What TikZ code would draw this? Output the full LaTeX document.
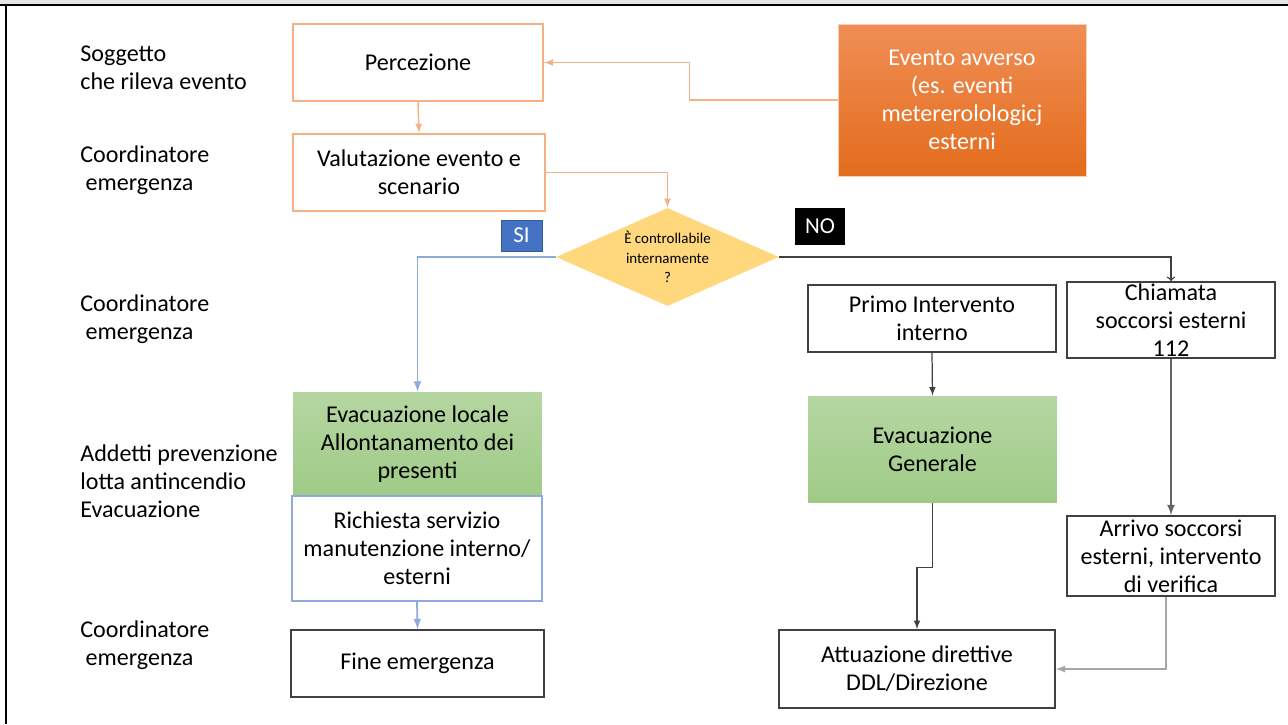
\documentclass[tikz,border=0pt]{standalone}
\usepackage{fontspec}
\setmainfont{Carlito}
\usepackage{tikz}
\usetikzlibrary{arrows}
\usetikzlibrary{shapes.geometric}
\definecolor{orline}{HTML}{F4B183}
\definecolor{orarrow}{HTML}{ED7D31}
\definecolor{orhigh}{HTML}{F08E55}
\definecolor{orlow}{HTML}{E36C1C}
\definecolor{blline}{HTML}{8FAADC}
\definecolor{blbox}{HTML}{4472C4}
\definecolor{grhigh}{HTML}{B5D6A2}
\definecolor{grlow}{HTML}{9FCB86}
\definecolor{ylfill}{HTML}{FFD77D}
\definecolor{dkline}{HTML}{404040}
\definecolor{ltline}{HTML}{A6A6A6}

\begin{document}
\begin{tikzpicture}[x=0.02cm,y=-0.02cm,
  txt/.style={font=\fontsize{13.7}{15.9}\selectfont,align=center,inner sep=0pt},
  role/.style={font=\fontsize{13.7}{15.9}\selectfont,align=left,anchor=west,inner sep=0pt},
  orbox/.style={txt,draw=orline,line width=1.2pt,fill=white},
  dkbox/.style={txt,draw=dkline,line width=1pt,fill=white},
  blbox/.style={txt,draw=blline,line width=1pt,fill=white},
  grbox/.style={txt,top color=grhigh,bottom color=grlow,draw=none},
  tag/.style={font=\fontsize{13}{15}\selectfont,text=white,inner sep=0pt},
  orflow/.style={draw=orline,line width=0.8pt,-latex},
  blflow/.style={draw=blline,line width=1pt,-latex},
  dkflow/.style={draw=dkline,line width=0.7pt,-latex}]
\useasboundingbox (0,0) rectangle (1288,724);
%% frame of the page
\fill[black!10] (0,0) rectangle (1288,4);
\draw[black,line width=1.4pt] (0,5) -- (1288,5);
\draw[black,line width=1.4pt] (6,5) -- (6,724);

%% roles on the left
\node[role] (r1) at (80,68) {Soggetto\\che rileva evento};
\node[role] (r2) at (80,170) {Coordinatore\\\hspace*{3pt}emergenza};
\node[role] (r3) at (80,319) {Coordinatore\\\hspace*{3pt}emergenza};
\node[role] (r4) at (80,481) {Addetti prevenzione\\lotta antincendio\\Evacuazione};
\node[role] (r5) at (80,645) {Coordinatore\\\hspace*{3pt}emergenza};

%% boxes
\node[orbox,minimum width=5cm,minimum height=1.54cm] (perc) at (418,62.5) {Percezione};
\node[orbox,minimum width=5.04cm,minimum height=1.54cm] (val) at (419,172.5) {Valutazione evento e\\scenario};
\node[txt,text=white,top color=orhigh,bottom color=orlow,draw=orline!60,line width=0.4pt,
  minimum width=4.96cm,minimum height=3.04cm] (ev) at (962,100) {Evento avverso\\(es. eventi\\metererolologicj\\esterni};
\node[diamond,aspect=2.27,fill=ylfill,inner sep=0pt,minimum width=4.46cm,minimum height=1.96cm,
  font=\fontsize{8.5}{11}\selectfont,align=center] (dec) at (667.5,257) {È controllabile\\internamente\\?};
\node[tag,fill=blbox,draw=blbox!80!black,line width=0.4pt,minimum width=0.82cm,minimum height=0.62cm] (si) at (521.5,235.5) {SI};
\node[tag,fill=black,minimum width=1cm,minimum height=0.74cm] (no) at (820,226.5) {NO};
\node[dkbox,minimum width=4.96cm,minimum height=1.34cm] (primo) at (932,318.5) {Primo Intervento\\interno};
\node[dkbox,minimum width=4.16cm,minimum height=1.52cm] (chi) at (1171,320) {Chiamata\\soccorsi esterni\\112};
\node[grbox,minimum width=4.98cm,minimum height=2.08cm] (evl) at (417.5,444) {Evacuazione locale\\Allontanamento dei\\presenti};
\node[blbox,minimum width=5cm,minimum height=2.1cm] (ric) at (417,548.5) {Richiesta servizio\\manutenzione interno/\\esterni};
\node[dkbox,minimum width=5.06cm,minimum height=1.34cm] (fine) at (417.5,663.5) {Fine emergenza};
\node[grbox,minimum width=4.98cm,minimum height=2.14cm] (evg) at (932.5,449.5) {Evacuazione\\Generale};
\node[dkbox,minimum width=5.52cm,minimum height=1.56cm] (att) at (917,669) {Attuazione direttive\\DDL/Direzione};
\node[dkbox,minimum width=4.16cm,minimum height=1.6cm] (arr) at (1171,556) {Arrivo soccorsi\\esterni, intervento\\di verifica};

%% connectors
\draw[orflow] (perc.south) -- (val.north);
\draw[orflow] (ev.west) -- ++(-148,0) |- (perc.east);
\draw[orflow] (val.east) -| (dec.north);
\draw[blflow] (dec.west) -| (evl.north);
\draw[blflow] (ric.south) -- (fine.north);
\draw[draw=dkline,line width=0.8pt,-to] (dec.east) -| (chi.north);
\draw[dkflow] (primo.south) -- (evg.north);
\draw[dkflow] (evg.south) -- ++(0,64) -| (att.north);
\draw[draw=dkline!80,line width=1pt,-latex] (chi.south) -- (arr.north);
\draw[draw=ltline,line width=0.8pt,-latex] ([xshift=-0.1cm]arr.south) |- (att.east);
\end{tikzpicture}
\end{document}
